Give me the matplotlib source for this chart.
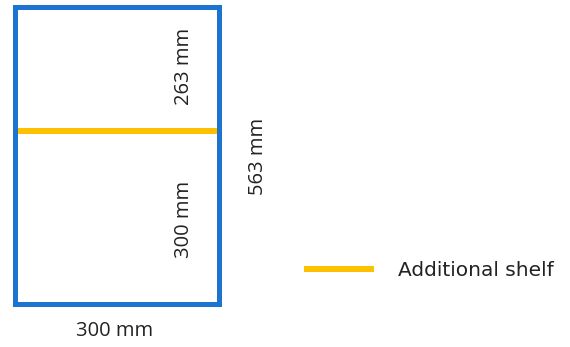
import matplotlib.pyplot as plt

# diagram values (mm)
box_width = 300
box_height = 563
lower_height = 300
upper_height = 263
shelf_drawn_at = 328   # where the shelf is drawn in the sketch (not to scale)
legend_label = "Additional shelf"

blue = "#1c74d0"
yellow = "#ffc000"
txt = "#222222"

plt.rcParams['font.family'] = ['Open Sans', 'DejaVu Sans']

fig = plt.figure(figsize=(5.7, 3.47), dpi=100)
ax = fig.add_axes([14.5 / 570, 43 / 347, 204 / 570, 297 / 347])
ax.set_xlim(0, box_width)
ax.set_ylim(0, box_height)
ax.set_xticks([])
ax.set_yticks([])
for s in ax.spines.values():
    s.set_color(blue)
    s.set_linewidth(3.6)

shelf = ax.hlines(shelf_drawn_at, 0, box_width, color=yellow, linewidth=4.3,
                  label=legend_label, zorder=1)

# dimension labels
ax.text(0.83, 0.8, f"{upper_height} mm", rotation=90, transform=ax.transAxes,
        ha='center', va='center', fontsize=14.5, color=txt)
ax.text(0.83, 0.285, f"{lower_height} mm", rotation=90, transform=ax.transAxes,
        ha='center', va='center', fontsize=14.5, color=txt)
fig.text(258 / 570, 1 - 156 / 347, f"{box_height} mm", rotation=90,
         ha='center', va='center', fontsize=14.5, color=txt)
fig.text(115 / 570, 1 - 331 / 347, f"{box_width} mm",
         ha='center', va='center', fontsize=14.5, color=txt)

fig.legend(handles=[shelf], loc='center left', bbox_to_anchor=(304 / 570, 1 - 271 / 347),
           frameon=False, borderpad=0, borderaxespad=0, handlelength=3.5,
           handletextpad=1.15, prop={'family': 'DejaVu Sans', 'size': 14.5},
           labelcolor=txt)

fig.savefig("out.png", dpi=100)
